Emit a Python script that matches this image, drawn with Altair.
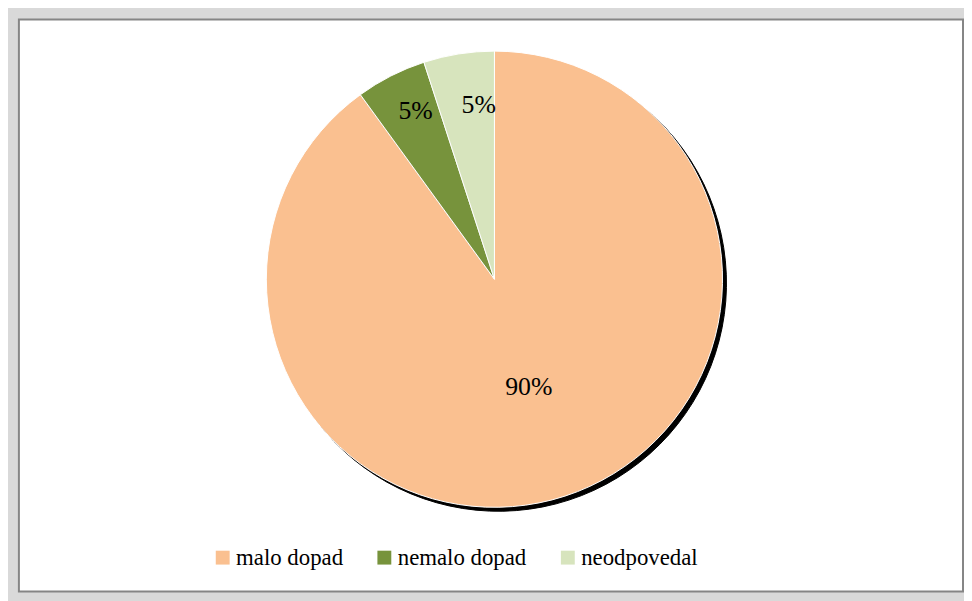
import altair as alt
import pandas as pd

categories = ["malo dopad", "nemalo dopad", "neodpovedal"]
values = [90, 5, 5]
labels = ["90%", "5%", "5%"]
colors = ["#FAC090", "#77933C", "#D7E4BD"]

df = pd.DataFrame({
    "kategoria": categories,
    "hodnota": values,
    "label": labels,
    "idx": list(range(len(categories))),
})

CX, CY, R = 479.5, 262, 230
FONT = "Liberation Serif"

base = alt.Chart(df)

theta = alt.Theta("hodnota:Q", stack=True)
order = alt.Order("idx:Q")

shadow = base.mark_arc(radius=R, fill="black", stroke="black", strokeWidth=1).encode(
    theta=theta, order=order,
    x=alt.value(CX + 4), y=alt.value(CY + 4),
)

pie = base.mark_arc(radius=R, stroke="white", strokeWidth=1).encode(
    theta=theta, order=order,
    x=alt.value(CX), y=alt.value(CY),
    color=alt.Color(
        "kategoria:N",
        scale=alt.Scale(domain=categories, range=colors),
        legend=alt.Legend(
            title=None,
            orient="none",
            legendX=194,
            legendY=531,
            direction="horizontal",
            symbolType="square",
            symbolSize=196,
            symbolStrokeWidth=0,
            labelFont=FONT,
            labelFontSize=23,
            labelColor="black",
            labelOffset=2,
            columnPadding=30,
        ),
    ),
)

def label_layer(cat, radius, dx=0, dy=0):
    return base.mark_text(
        radius=radius, dx=dx, dy=dy,
        font=FONT, fontSize=26, color="black",
    ).encode(
        theta=theta, order=order,
        x=alt.value(CX), y=alt.value(CY),
        text=alt.condition(alt.datum.kategoria == cat, "label:N", alt.value("")),
    )

chart = alt.layer(
    shadow,
    pie,
    label_layer("malo dopad", 112, dy=2),
    label_layer("nemalo dopad", 186, dx=5, dy=-4),
    label_layer("neodpovedal", 178, dx=12),
).properties(
    width=952,
    height=577,
    background="#D9D9D9",
    padding={"left": 11, "top": 9, "right": 1, "bottom": 7},
    autosize=alt.AutoSizeParams(type="none"),
).configure(
    font=FONT,
).configure_view(
    fill="white",
    stroke="#858585",
    strokeWidth=2,
)

chart.save("out.html", embed_options={"renderer": "svg", "actions": False})
